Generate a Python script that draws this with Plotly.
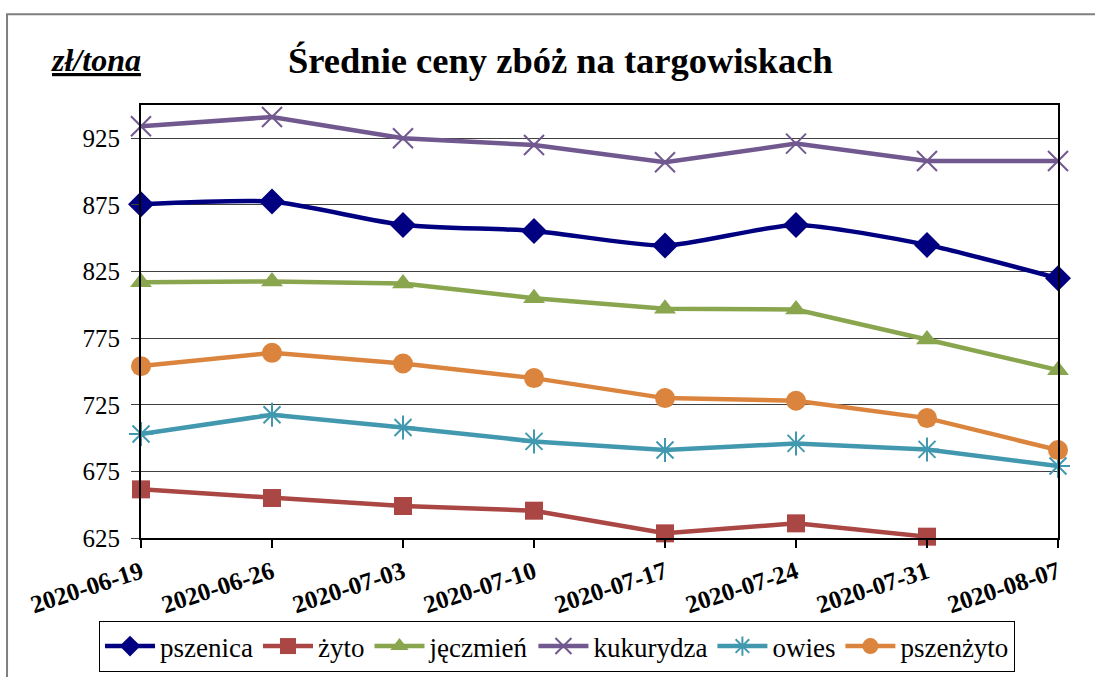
import plotly.graph_objects as go

dates = ["2020-06-19", "2020-06-26", "2020-07-03", "2020-07-10",
         "2020-07-17", "2020-07-24", "2020-07-31", "2020-08-07"]
pszenica = [875.5, 877.5, 860, 855.5, 844.5, 860, 845, 820]
zyto = [661.5, 655, 649, 645.5, 628.5, 636, 626, None]
jeczmien = [817, 817.5, 816, 805, 797, 796.5, 774, 751]
kukurydza = [934, 941, 925, 920, 907, 921, 908, 908]
owies = [703, 717.5, 708, 697.5, 691, 696, 691.5, 679]
pszenzyto = [754, 764, 756, 745, 730, 728, 715, 691]

y_ticks = [625, 675, 725, 775, 825, 875, 925]

FONT = "Liberation Serif, Times New Roman, Times, serif"

series = [
    ("pszenica", pszenica, "#000080", "diamond", 20, "spline"),
    ("żyto", zyto, "#AA4643", "square", 18, "linear"),
    ("jęczmień", jeczmien, "#89A54E", "triangle-up", 19, "linear"),
    ("kukurydza", kukurydza, "#71588F", "x-thin", 20, "linear"),
    ("owies", owies, "#4198AF", "asterisk", 20, "linear"),
    ("pszenżyto", pszenzyto, "#DB843D", "circle", 20, "linear"),
]

fig = go.Figure()
for name, vals, color, sym, size, shape in series:
    marker = dict(symbol=sym, size=size, color=color)
    if sym in ("x-thin", "asterisk"):
        marker["line"] = dict(color=color, width=2)
    fig.add_trace(go.Scatter(
        x=dates, y=vals, name=name, mode="lines+markers",
        line=dict(color=color, width=4.5, shape=shape, smoothing=0.6),
        marker=marker, cliponaxis=False, connectgaps=False,
    ))

fig.update_layout(
    width=1095, height=677,
    margin=dict(l=141, r=37, t=105, b=139, autoexpand=False),
    paper_bgcolor="white", plot_bgcolor="white",
    font=dict(family=FONT, color="black"),
    showlegend=True,
    legend=dict(
        orientation="h", xref="container", yref="container",
        x=0.5087, xanchor="center", y=(677 - 621) / 677, yanchor="top",
        bordercolor="black", borderwidth=1, bgcolor="white",
        font=dict(family="Liberation Serif", size=27, color="black"),
        itemwidth=50, tracegroupgap=0,
    ),
    xaxis=dict(
        type="category", range=[0, 7], showgrid=False,
        showline=True, linecolor="black", linewidth=2, mirror=True,
        ticks="outside", ticklen=8, tickwidth=1.5, tickcolor="black",
        tickangle=-18,
        tickfont=dict(family=FONT, size=25, color="black", weight="bold"),
    ),
    yaxis=dict(
        range=[625, 950], tickvals=y_ticks,
        showgrid=True, gridcolor="#404040", gridwidth=1.3,
        showline=True, linecolor="black", linewidth=2, mirror=True,
        ticks="outside", ticklen=8, tickwidth=1.3, tickcolor="#404040",
        ticklabelstandoff=6,
        tickfont=dict(family=FONT, size=25, color="black"),
        zeroline=False,
    ),
    shapes=[dict(type="rect", xref="paper", yref="paper",
                 x0=-0.1461, x1=1.2, y0=-0.5, y1=1.2095,
                 line=dict(color="#7f7f7f", width=2), layer="below")],
    annotations=[
        dict(text="<b>Średnie ceny zbóż na targowiskach</b>",
             xref="paper", yref="paper", x=0.458, y=1.103,
             xanchor="center", yanchor="middle", showarrow=False,
             font=dict(family=FONT, size=36.5, color="black")),
        dict(text="<b><i><u>zł/tona</u></i></b>",
             xref="paper", yref="paper", x=-0.049, y=1.103,
             xanchor="center", yanchor="middle", showarrow=False,
             font=dict(family=FONT, size=32, color="black")),
    ],
)

fig.write_html("out.html", config={"displayModeBar": False},
               post_script="document.body.style.margin='0';document.body.style.overflow='hidden';")
